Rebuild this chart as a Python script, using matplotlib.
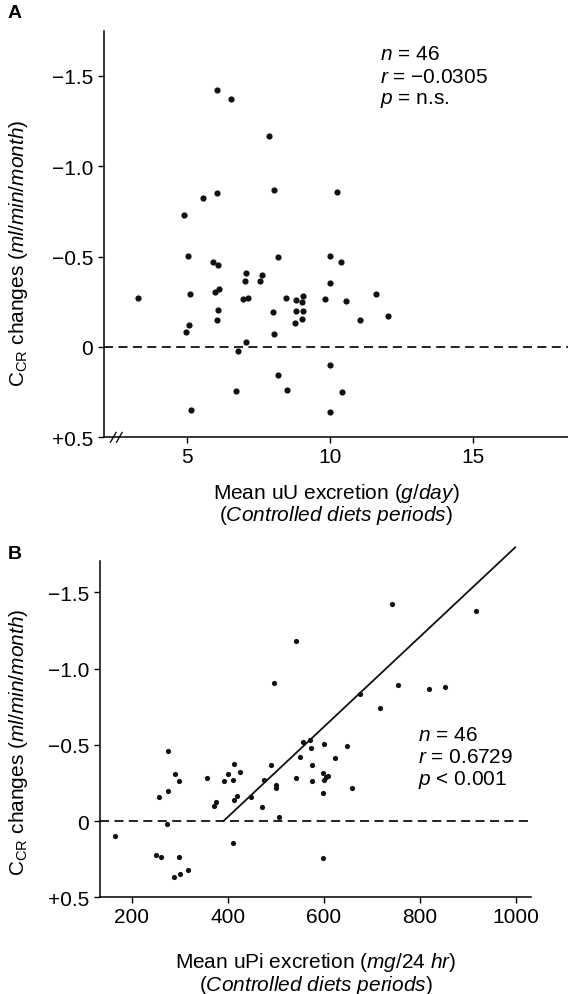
import matplotlib
matplotlib.use("Agg")
import matplotlib.pyplot as plt

plt.rcParams['font.family'] = ['Liberation Sans', 'DejaVu Sans']
plt.rcParams['mathtext.fontset'] = 'custom'
plt.rcParams['mathtext.rm'] = 'Liberation Sans'
plt.rcParams['mathtext.it'] = 'Liberation Sans:italic'
plt.rcParams['mathtext.bf'] = 'Liberation Sans:bold'

# panel A: mean urinary urea (g/day) vs creatinine clearance change
uu_x = [3.26, 6.05, 6.54, 7.85, 8.04, 10.25, 6.05, 5.53, 4.89, 5.03, 8.19, 10.0,
        10.39, 5.88, 6.07, 7.06, 7.60, 7.03, 7.53, 10.01, 5.95, 6.11, 5.09, 11.6,
        6.94, 7.12, 8.44, 9.05, 8.82, 9.03, 9.82, 10.54, 6.07, 7.99, 8.79, 9.05,
        12.01, 6.05, 9.03, 11.04, 8.76, 5.06, 4.96, 8.02, 7.07, 6.77, 9.99, 8.17,
        6.71, 8.49, 10.41, 5.13, 10.01]
uu_y = [-0.271, -1.42, -1.37, -1.166, -0.871, -0.858, -0.853, -0.825, -0.729,
        -0.503, -0.497, -0.506, -0.470, -0.470, -0.451, -0.411, -0.400, -0.363,
        -0.363, -0.354, -0.304, -0.322, -0.295, -0.295, -0.263, -0.271, -0.271,
        -0.280, -0.258, -0.247, -0.265, -0.252, -0.206, -0.193, -0.201, -0.197,
        -0.169, -0.147, -0.153, -0.151, -0.134, -0.120, -0.081, -0.074, -0.028,
        0.020, 0.099, 0.153, 0.245, 0.241, 0.249, 0.348, 0.359]

# panel B: mean urinary phosphate (mg/24 hr)
upi_x = [165, 257, 276, 276, 290, 299, 274, 251, 261, 299, 287, 301, 317, 356,
         375, 371, 393, 400, 412, 411, 426, 412, 419, 410, 448, 471, 476, 490,
         497, 501, 500, 507, 542, 541, 742, 916, 755, 819, 853, 675, 717, 557,
         572, 600, 649, 551, 574, 623, 576, 575, 599, 604, 608, 600, 599, 659, 599]
upi_y = [0.10, -0.158, -0.197, -0.462, -0.311, -0.26, 0.018, 0.225, 0.236, 0.236,
         0.368, 0.35, 0.324, -0.28, -0.125, -0.096, -0.263, -0.311, -0.372, -0.271,
         -0.324, -0.136, -0.162, 0.142, -0.158, -0.092, -0.267, -0.365, -0.908,
         -0.239, -0.217, -0.026, -1.178, -0.279, -1.42, -1.38, -0.893, -0.867,
         -0.88, -0.832, -0.744, -0.52, -0.53, -0.503, -0.492, -0.422, -0.48, -0.416,
         -0.368, -0.265, -0.317, -0.29, -0.297, -0.267, -0.182, -0.214, 0.245]
fit_x = [391, 998]
fit_y = [0.0, -1.794]

y_ticks = [-1.5, -1.0, -0.5, 0, 0.5]
y_labels = ['\u22121.5', '\u22121.0', '\u22120.5', '0', '+0.5']
ylabel = r'C$_\mathrm{CR}$ changes ($\mathit{ml/min/month}$)'
fs = 15

fig = plt.figure(figsize=(5.68, 9.95), dpi=100)
ax1 = fig.add_axes([0.1831, 0.5595, 0.8169, 0.4086])
ax2 = fig.add_axes([0.1761, 0.0972, 0.7588, 0.3383])

for ax in (ax1, ax2):
    for s in ('top', 'right'):
        ax.spines[s].set_visible(False)
    for s in ('left', 'bottom'):
        ax.spines[s].set_linewidth(1.1)
    ax.set_yticks(y_ticks)
    ax.set_yticklabels(y_labels)
    ax.tick_params(axis='both', direction='out', length=4, width=1, labelsize=fs)
    ax.tick_params(axis='x', pad=3)
    ax.tick_params(axis='y', pad=4)
    ax.axhline(0, color='#111111', lw=1.3, ls=(0, (5, 3)))
    ax.set_ylabel(ylabel, fontsize=fs)

ax1.scatter(uu_x, uu_y, s=20, color='#111111', zorder=3, linewidths=0)
ax1.set_xlim(2.08, 18.33)
ax1.set_ylim(0.5, -1.75)
ax1.set_xticks([5, 10, 15])
ax1.yaxis.set_label_coords(-0.16, 0.455)
for bx in (0.020, 0.033):
    ax1.plot([bx - 0.006, bx + 0.006], [-0.012, 0.012], color='#111111', lw=1,
             transform=ax1.transAxes, clip_on=False)
ax1.text(0.5, -0.135, r'Mean uU excretion ($\mathit{g/day}$)', transform=ax1.transAxes,
         ha='center', va='center', fontsize=fs)
ax1.text(0.5, -0.19, r'($\mathit{Controlled\ diets\ periods}$)', transform=ax1.transAxes,
         ha='center', va='center', fontsize=fs)
ax1.text(0.595, 0.943, r'$\mathit{n}$ = 46', transform=ax1.transAxes, ha='left', va='center', fontsize=fs)
ax1.text(0.595, 0.887, '$\\mathit{r}$ = \u22120.0305', transform=ax1.transAxes, ha='left', va='center', fontsize=fs)
ax1.text(0.595, 0.832, r'$\mathit{p}$ = n.s.', transform=ax1.transAxes, ha='left', va='center', fontsize=fs)

ax2.scatter(upi_x, upi_y, s=14, color='#111111', zorder=3, linewidths=0)
ax2.plot(fit_x, fit_y, color='#111111', lw=1.3, clip_on=False)
ax2.set_xlim(134, 1031)
ax2.set_ylim(0.5, -1.707)
ax2.set_xticks([200, 400, 600, 800, 1000])
ax2.yaxis.set_label_coords(-0.162, 0.464)
ax2.text(0.5, -0.192, r'Mean uPi excretion ($\mathit{mg/24\ hr}$)', transform=ax2.transAxes,
         ha='center', va='center', fontsize=fs)
ax2.text(0.5, -0.258, r'($\mathit{Controlled\ diets\ periods}$)', transform=ax2.transAxes,
         ha='center', va='center', fontsize=fs)
ax2.text(0.738, 0.485, r'$\mathit{n}$ = 46', transform=ax2.transAxes, ha='left', va='center', fontsize=fs)
ax2.text(0.738, 0.417, r'$\mathit{r}$ = 0.6729', transform=ax2.transAxes, ha='left', va='center', fontsize=fs)
ax2.text(0.738, 0.352, r'$\mathit{p}$ < 0.001', transform=ax2.transAxes, ha='left', va='center', fontsize=fs)

fig.text(15 / 568, 1 - 14 / 995, 'A', fontsize=14, fontweight='bold', ha='center', va='center')
fig.text(15 / 568, 1 - 555 / 995, 'B', fontsize=14, fontweight='bold', ha='center', va='center')

fig.savefig('out.png', dpi=100)
